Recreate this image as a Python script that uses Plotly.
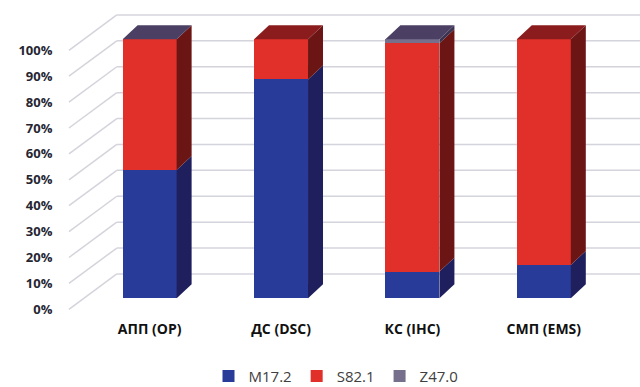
import plotly.graph_objects as go

# Share of diagnoses by care setting (fractions of 1)
categories = ["АПП (ОР)", "ДС (DSC)", "КС (IHC)", "СМП (EMS)"]
m17_2 = [0.495, 0.845, 0.103, 0.129]
s82_1 = [0.505, 0.155, 0.882, 0.871]
z47_0 = [0.0, None, 0.015, None]
tick_levels = [0, 0.1, 0.2, 0.3, 0.4, 0.5, 0.6, 0.7, 0.8, 0.9, 1.0]
tick_text = ["0%", "10%", "20%", "30%", "40%", "50%", "60%", "70%", "80%", "90%", "100%"]

series = [
    ("M17.2", m17_2, "#283B98", "#1E1F5C", "#252A6E"),
    ("S82.1", s82_1, "#E1302A", "#6B1515", "#8B1C1E"),
    ("Z47.0", z47_0, "#76708C", "#3C3350", "#4B4064"),
]

# Oblique-projection parameters (axis units)
BAR_W = 0.411
DEPTH_X, DEPTH_Y = 0.114, 0.054          # bar depth
WALL_X, WALL_DY = -0.25, 0.094           # back wall position / lift
EDGE_X, EDGE_DY = -0.614, -0.0425        # front edge of the side wall
X_RANGE = [-0.667, 3.732]
Y_RANGE = [-0.0529, 1.1517]

xs = list(range(len(categories)))
fig = go.Figure()

# Front faces
for name, vals, front, side, top in series:
    fig.add_trace(go.Bar(
        x=xs, y=vals, name=name, width=BAR_W,
        marker=dict(color=front, line=dict(width=0)),
        hovertemplate="%{y:.1%}<extra>" + name + "</extra>",
    ))

# Side and top faces computed from the stacked values
for i in xs:
    xl, xr = i - BAR_W / 2, i + BAR_W / 2
    base = 0.0
    top_color = None
    for name, vals, front, side, top in series:
        v = vals[i]
        if v is None:
            continue
        t = base + v
        if v > 0:
            fig.add_trace(go.Scatter(
                x=[xr, xr + DEPTH_X, xr + DEPTH_X, xr, xr],
                y=[base, base + DEPTH_Y, t + DEPTH_Y, t, base],
                fill="toself", fillcolor=side, mode="lines",
                line=dict(width=0, color=side), hoverinfo="skip", showlegend=False,
            ))
        base = t
        top_color = top
    fig.add_trace(go.Scatter(
        x=[xl, xl + DEPTH_X, xr + DEPTH_X, xr, xl],
        y=[base, base + DEPTH_Y, base + DEPTH_Y, base, base],
        fill="toself", fillcolor=top_color, mode="lines",
        line=dict(width=0, color=top_color), hoverinfo="skip", showlegend=False,
    ))

# Back-wall gridlines and side-wall diagonals
grid_color = "#D4D4DC"
for v in tick_levels:
    fig.add_shape(type="line", xref="x", yref="y", layer="below",
                  x0=WALL_X, y0=v + WALL_DY, x1=X_RANGE[1], y1=v + WALL_DY,
                  line=dict(color=grid_color, width=1.5))
    fig.add_shape(type="line", xref="x", yref="y", layer="below",
                  x0=EDGE_X, y0=v + EDGE_DY, x1=WALL_X, y1=v + WALL_DY,
                  line=dict(color=grid_color, width=1.5))

fig.update_layout(
    barmode="stack",
    width=640, height=387,
    margin=dict(l=62, r=0, t=0, b=75),
    paper_bgcolor="white", plot_bgcolor="white",
    font=dict(family="Open Sans, DejaVu Sans, sans-serif", color="#262633"),
    showlegend=True,
    legend=dict(
        orientation="h", xref="container", yref="container",
        x=0.525, xanchor="center", y=0.028, yanchor="middle",
        font=dict(size=15, color="#404040"), traceorder="normal",
        itemwidth=30, tracegroupgap=0, borderwidth=0,
    ),
    xaxis=dict(
        range=X_RANGE, tickvals=xs, ticktext=categories,
        showgrid=False, zeroline=False, showline=False,
        ticks="outside", ticklen=4, tickcolor="rgba(0,0,0,0)",
        tickfont=dict(size=14, color="#111111", weight="bold"),
    ),
    yaxis=dict(
        range=Y_RANGE,
        tickvals=[v + EDGE_DY for v in tick_levels], ticktext=tick_text,
        showgrid=False, zeroline=False, showline=False,
        ticks="outside", ticklen=6, tickcolor="rgba(0,0,0,0)",
        tickfont=dict(size=13, color="#262633", weight="bold"),
    ),
)

fig.write_html("out.html")
